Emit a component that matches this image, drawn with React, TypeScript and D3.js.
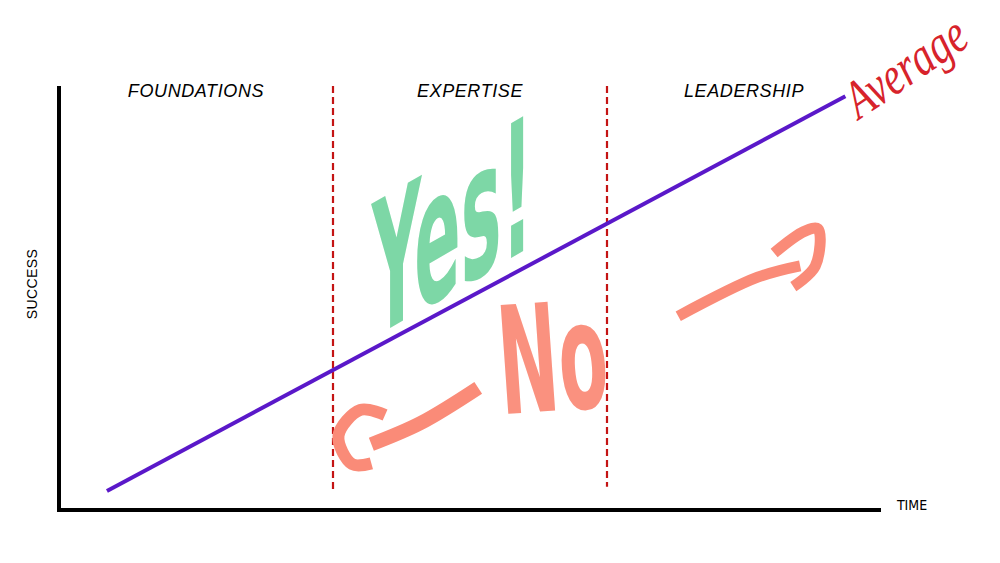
import React from "react";
import * as d3 from "d3";

// phases along the time axis, one band each
const phases = ["FOUNDATIONS", "EXPERTISE", "LEADERSHIP"];
const dividers = [1, 2];

// the "average" trajectory: [time, success]
const averageLine: [number, number][] = [
  [0.175, 4.5],
  [2.87, 97.6],
];

// hand-drawn arrows, in [time, success] units
const leftArrowShaft: [number, number][] = [
  [1.14, 15.5],
  [1.32, 20.5],
  [1.53, 28.8],
];
const leftArrowHook: [number, number][] = [
  [1.19, 22.4],
  [1.1, 23.6],
  [1.02, 17.5],
  [1.07, 10.8],
  [1.14, 11],
];
const rightArrowShaft: [number, number][] = [
  [2.26, 45.7],
  [2.55, 54.9],
  [2.705, 57.6],
];
const rightArrowHead: [number, number][] = [
  [2.61, 60.6],
  [2.72, 65.7],
  [2.77, 66.3],
  [2.76, 57.5],
  [2.68, 52.7],
];

const App: React.FC = () => {
  const width = 1000;
  const height = 563;

  const x = d3.scaleLinear().domain([0, 3]).range([59, 881]);
  const y = d3.scaleLinear().domain([0, 100]).range([510, 86]);

  const line = d3
    .line<[number, number]>()
    .x((d) => x(d[0]))
    .y((d) => y(d[1]));
  const curve = d3
    .line<[number, number]>()
    .x((d) => x(d[0]))
    .y((d) => y(d[1]))
    .curve(d3.curveCatmullRom.alpha(0.5));

  const salmon = "#fa8b78";
  const green = "#7dd7a6";

  return (
    <svg
      width={width}
      height={height}
      style={{ position: "absolute", left: 0, top: 0, background: "#fff" }}
    >
      {/* axes */}
      <line x1={x(0)} x2={x(0)} y1={y(100)} y2={y(0) + 2} stroke="#000" strokeWidth={4} />
      <line x1={x(0) - 2} x2={x(3)} y1={y(0)} y2={y(0)} stroke="#000" strokeWidth={4} />
      <text
        x={912}
        y={y(0) - 4}
        fontFamily="DejaVu Sans Condensed"
        fontSize={14}
        textAnchor="middle"
        dominantBaseline="middle"
      >
        TIME
      </text>
      <text
        transform={`translate(33,${y(53.3)}) rotate(-90)`}
        fontFamily="Liberation Sans"
        fontSize={14}
        letterSpacing={0.4}
        textAnchor="middle"
        dominantBaseline="middle"
      >
        SUCCESS
      </text>

      {/* phase dividers and labels */}
      {dividers.map((d, i) => (
        <line
          key={d}
          x1={x(d)}
          x2={x(d)}
          y1={y(100)}
          y2={y(i === 0 ? 4.3 : 5.5)}
          stroke="#c41414"
          strokeWidth={2.2}
          strokeDasharray="7,4"
        />
      ))}
      {phases.map((p, i) => (
        <text
          key={p}
          x={x(i + 0.5)}
          y={y(98.6)}
          fontFamily="Liberation Sans"
          fontStyle="italic"
          fontSize={18}
          letterSpacing={0.6}
          textAnchor="middle"
          dominantBaseline="middle"
        >
          {p}
        </text>
      ))}

      {/* average line */}
      <path d={line(averageLine) ?? ""} stroke="#5a18c9" strokeWidth={4} fill="none" />

      {/* hand-written annotations */}
      <text
        transform={`translate(${x(1.435)},292) skewY(-30) scale(0.76,1.85)`}
        fontFamily="DejaVu Sans Condensed"
        fontWeight="bold"
        fontSize={100}
        fill={green}
        textAnchor="middle"
      >
        Yes!
      </text>
      <text
        transform={`translate(${x(1.815)},${y(23.5)}) rotate(-4) scale(0.95,1.78)`}
        fontFamily="DejaVu Sans Condensed"
        fontWeight="bold"
        fontSize={84}
        fill={salmon}
        fillOpacity={0.95}
        textAnchor="middle"
      >
        No
      </text>
      <path
        d={curve(leftArrowShaft) ?? ""}
        stroke={salmon}
        strokeWidth={14}
        fill="none"
        strokeLinecap="butt"
      />
      <path d={curve(leftArrowHook) ?? ""} stroke={salmon} strokeWidth={12} fill="none" />
      <path d={curve(rightArrowShaft) ?? ""} stroke={salmon} strokeWidth={11} fill="none" />
      <path
        d={curve(rightArrowHead) ?? ""}
        stroke={salmon}
        strokeWidth={11}
        fill="none"
        strokeLinejoin="round"
      />
      <text
        transform={`translate(${x(2.92)},${y(92)}) rotate(-34) scale(1.22,1.6)`}
        fontFamily="Liberation Serif"
        fontStyle="italic"
        fontSize={34}
        fill="#d7232b"
        textAnchor="start"
      >
        Average
      </text>
    </svg>
  );
};

export default App;
